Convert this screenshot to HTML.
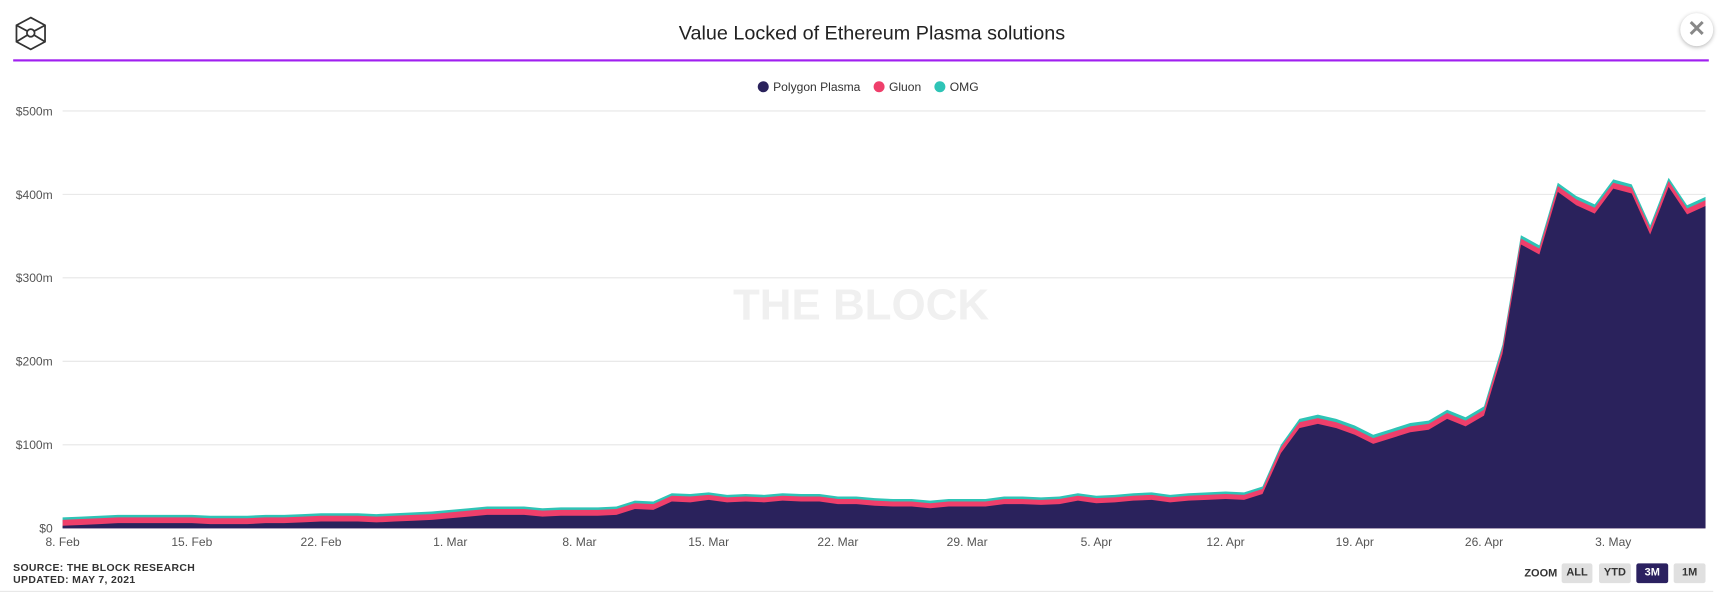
<!DOCTYPE html>
<html><head><meta charset="utf-8">
<style>
html,body{margin:0;width:1722px;height:593px;background:#fff;font-family:"Liberation Sans",sans-serif;overflow:hidden}
#wrap{position:absolute;left:0;top:0;width:1568px;height:540px;transform:scale(1.09821);transform-origin:0 0}
.t{position:absolute}
.btn{position:absolute;top:513px;height:18px;background:#e0e0e0;border-radius:2px;font-size:10px;font-weight:bold;color:#333;text-align:center;line-height:18px}
</style></head><body>
<div id="wrap">
<svg class="t" style="left:12px;top:14px" width="32" height="32" viewBox="0 0 32 32">
<g fill="none" stroke="#333" stroke-width="1.6"><polygon points="16,2 29,9 29,24 16,31 3,24 3,9"/><line x1="3" y1="9" x2="16" y2="16"/><line x1="29" y1="9" x2="16" y2="16"/><line x1="3" y1="24" x2="16" y2="16"/><line x1="29" y1="24" x2="16" y2="16"/><circle cx="16" cy="16" r="3.5" fill="#fff"/></g></svg>
<div class="t" style="left:0;width:1588px;top:20px;text-align:center;font-size:18px;color:#222">Value Locked of Ethereum Plasma solutions</div>
<div class="t" style="left:1530px;top:12px;width:30px;height:30px;border-radius:15px;background:#fff;box-shadow:0 1px 4px rgba(0,0,0,.3);text-align:center;line-height:30px;font-size:20px;font-weight:bold;color:#888">✕</div>
<div class="t" style="left:12px;top:54px;width:1544px;height:2px;background:#a020f0"></div>
<svg class="t" style="left:0;top:0" width="1568" height="540" id="chart"></svg>
<div class="t" style="left:12px;top:512px;font-size:9.5px;font-weight:bold;color:#333;line-height:11px;letter-spacing:.3px">SOURCE: THE BLOCK RESEARCH<br>UPDATED: MAY 7, 2021</div>
<div class="t" style="left:1388px;top:517px;font-size:10px;font-weight:bold;color:#333">ZOOM</div>
<div class="btn" style="left:1422px;width:28px">ALL</div>
<div class="btn" style="left:1456px;width:29px">YTD</div>
<div class="btn" style="left:1490px;width:29px;background:#2b2160;color:#fff">3M</div>
<div class="btn" style="left:1524px;width:29px">1M</div>
<div class="t" style="left:0;top:538px;width:1560px;height:1px;background:#e6e6e6"></div>
</div>
<script>
const totals=[13,14,15,16,16,16,16, 16,15,15,15,16,16,17, 18,18,18,17,18,19,20, 22,24,26,26,26,24,25, 25,25,26,33,32,42,41, 43,40,41,40,42,41,41, 38,38,36,35,35,33,35, 35,35,38,38,37,38,42, 39,40,42,43,40,42,43, 44,43,50,100,131,136,131, 123,112,119,126,129,142,133, 146,220,351,339,414,398,388, 418,412,363,420,387,397];
const gluon=[7,7,7,7,7,7,7, 7,7,7,7,7,7,7, 7,7,7,7,7,7,7, 7,7,7,7,7,7,7, 7,7,7,7,7,7,7, 6,6,6,6,6,6,6, 6,6,6,6,6,6,6, 6,6,6,6,6,6,6, 6,6,6,6,6,6,6, 6,6,6,7,7,7,7, 7,7,7,7,7,7,7, 7,7,7,7,7,7,7, 7,7,7,7,7,7];
const omg=[3,3,3,3,3,3,3, 3,3,3,3,3,3,3, 3,3,3,3,3,3,3, 3,3,3,3,3,3,3, 3,3,3,3,3,3,3, 3,3,3,3,3,3,3, 3,3,3,3,3,3,3, 3,3,3,3,3,3,3, 3,3,3,3,3,3,3, 3,3,3,3,4,4,4, 4,4,4,4,4,4,4, 4,4,4,4,4,4,4, 4,4,4,4,4,4];
const yTicks=[0,100,200,300,400,500];
const yTickLabels=["$0","$100m","$200m","$300m","$400m","$500m"];
const xTickDays=[0,7,14,21,28,35,42,49,56,63,70,77,84];
const xTickLabels=["8. Feb","15. Feb","22. Feb","1. Mar","8. Mar","15. Mar","22. Mar","29. Mar","5. Apr","12. Apr","19. Apr","26. Apr","3. May"];
const legendNames=["Polygon Plasma","Gluon","OMG"];
const colors=["#2a225c","#ef3f6b","#2ec4b6"];
const NS="http://www.w3.org/2000/svg";
const svg=document.getElementById('chart');
const X0=57,X1=1553,Y0=481,Y1=101;
const xs=d=>X0+(X1-X0)*d/(totals.length-1);
const ys=v=>Y0-(Y0-Y1)*v/500;
function mk(t,a){const e=document.createElementNS(NS,t);for(const k in a)e.setAttribute(k,a[k]);svg.appendChild(e);return e;}
yTicks.forEach((v,i)=>{
 const l=mk('line',{x1:X0,x2:X1,y1:ys(v),y2:ys(v),stroke:i==0?'#ccd6eb':'#e6e6e6','stroke-width':1});
 
 
 const t=mk('text',{x:48,y:ys(v)+4,'text-anchor':'end','font-size':11,fill:'#555','font-family':'Liberation Sans, sans-serif'});
 t.textContent=yTickLabels[i];
 
 
});
xTickDays.forEach((d,i)=>{
 const t=mk('text',{x:xs(d),y:497,'text-anchor':'middle','font-size':11,fill:'#555','font-family':'Liberation Sans, sans-serif'});
 t.textContent=xTickLabels[i];
 
 
});
const wm=mk('text',{x:784,y:291,'text-anchor':'middle','font-size':40,'font-weight':'bold',fill:'#f0f0f0','font-family':'Liberation Sans, sans-serif'});
wm.textContent="THE BLOCK";


const poly=totals.map((t,i)=>t-gluon[i]-omg[i]);
const layers=[poly,poly.map((p,i)=>p+gluon[i]),totals];
const names=['polygon-area','gluon-area','omg-area'];
for(let k=2;k>=0;k--){
 let d='M'+xs(0)+','+Y0;
 layers[k].forEach((v,i)=>{d+=' L'+xs(i).toFixed(1)+','+ys(v).toFixed(1);});
 d+=' L'+xs(totals.length-1)+','+Y0+' Z';
 const p=mk('path',{d:d,fill:colors[k]});
 
 
}
let lx=690;
legendNames.forEach((n,i)=>{
 const c=mk('circle',{cx:lx+5,cy:79,r:5,fill:colors[i]});
 
 
 const t=mk('text',{x:lx+14,y:83,'font-size':11,fill:'#333','font-family':'Liberation Sans, sans-serif'});
 t.textContent=n;
 
 
 lx+=14+t.getComputedTextLength()+12;
});
</script>
</body></html>
